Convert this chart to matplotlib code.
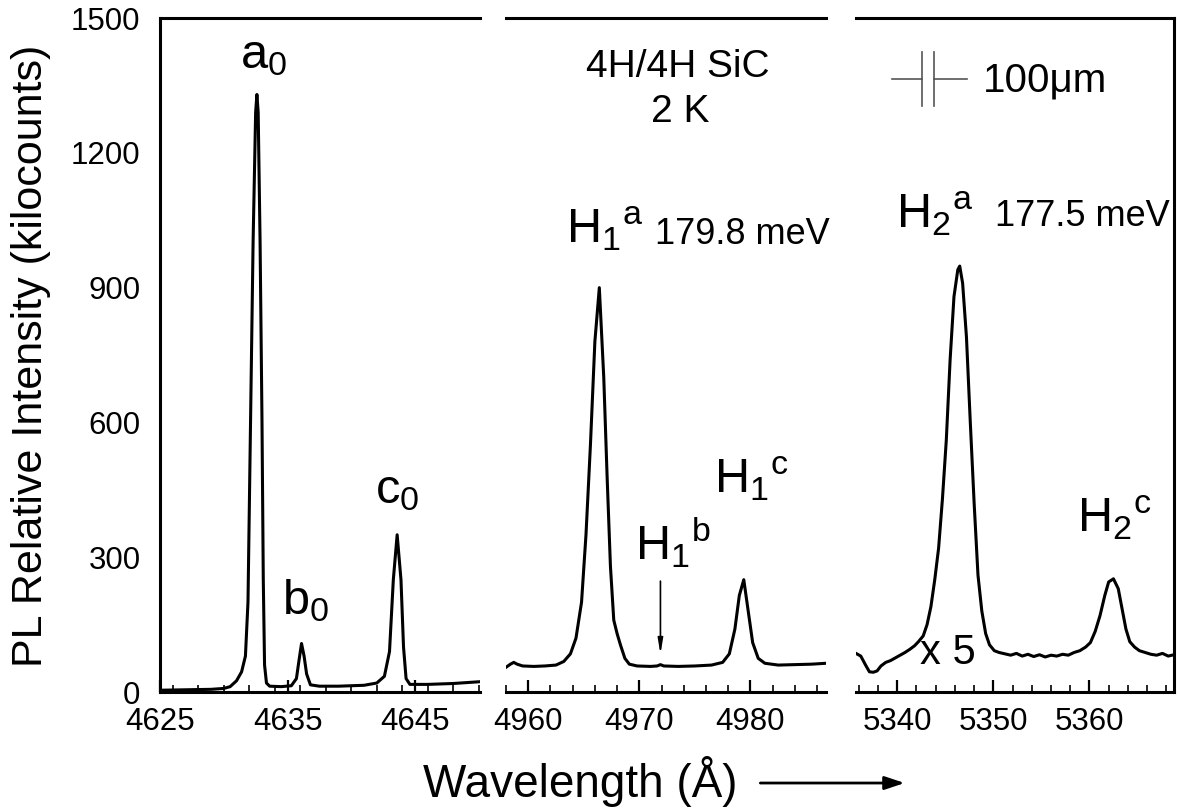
import matplotlib
matplotlib.use("Agg")
import matplotlib.pyplot as plt
from matplotlib.lines import Line2D
from matplotlib.patches import FancyArrowPatch
from matplotlib.ticker import MultipleLocator

plt.rcParams['font.family'] = ['Liberation Sans', 'DejaVu Sans']
plt.rcParams['mathtext.default'] = 'regular'

# panel 1: near band edge lines (a0, b0, c0)
wl1 = [4625.0, 4627.0, 4629.0, 4630.0, 4630.5, 4631.0, 4631.4, 4631.7, 4631.9, 4632.1,
       4632.3, 4632.5, 4632.6, 4632.7, 4632.85, 4633.0, 4633.1, 4633.2, 4633.35, 4633.6,
       4634.5, 4635.3, 4635.7, 4635.9, 4636.1, 4636.3, 4636.5, 4636.8, 4637.5, 4639.0,
       4641.0, 4642.0, 4642.6, 4643.0, 4643.3, 4643.6, 4643.9, 4644.1, 4644.3, 4644.6,
       4646.0, 4648.0, 4650.1]
pl1 = [4, 5, 6, 8, 12, 25, 45, 80, 200, 600,
       1000, 1290, 1330, 1290, 1000, 600, 250, 60, 20, 13,
       12, 14, 30, 70, 108, 80, 40, 16, 13, 13,
       15, 20, 35, 90, 250, 350, 250, 100, 30, 17,
       17, 19, 23]

# panel 2: H1 lines
wl2 = [4958.0, 4958.4, 4958.7, 4959.0, 4959.5, 4960.5, 4961.5, 4962.5, 4963.2, 4963.8,
       4964.3, 4964.8, 4965.2, 4965.6, 4966.0, 4966.4, 4966.8, 4967.1, 4967.4, 4967.7,
       4968.0, 4968.3, 4968.7, 4969.1, 4969.8, 4971.0, 4971.6, 4971.9, 4972.2, 4973.5,
       4975.0, 4976.5, 4977.5, 4978.1, 4978.6, 4979.0, 4979.4, 4979.8, 4980.2, 4980.7,
       4981.3, 4982.5, 4984.0, 4985.5, 4986.8]
pl2 = [55, 62, 66, 62, 58, 57, 58, 60, 68, 85,
       120, 200, 350, 550, 780, 900, 700, 480, 280, 160,
       130, 105, 75, 62, 58, 57, 58, 61, 58, 57,
       58, 60, 66, 85, 140, 215, 250, 180, 110, 75,
       64, 60, 61, 62, 64]

# panel 3: H2 lines (x5)
wl3 = [5335.7, 5336.2, 5336.7, 5337.1, 5337.5, 5337.9, 5338.3, 5338.8, 5339.3, 5339.8,
       5340.3, 5340.8, 5341.3, 5341.8, 5342.2, 5342.7, 5343.1, 5343.5, 5343.9, 5344.3,
       5344.7, 5345.1, 5345.5, 5345.9, 5346.3, 5346.5, 5346.8, 5347.2, 5347.6, 5348.0,
       5348.4, 5348.8, 5349.2, 5349.6, 5350.1, 5350.6, 5351.2, 5351.8, 5352.4, 5353.0,
       5353.6, 5354.2, 5354.8, 5355.4, 5356.0, 5356.6, 5357.2, 5357.8, 5358.4, 5359.0,
       5359.6, 5360.1, 5360.6, 5361.1, 5361.6, 5362.0, 5362.5, 5363.0, 5363.4, 5363.8,
       5364.2, 5364.7, 5365.2, 5365.8, 5366.4, 5367.0, 5367.6, 5368.2, 5368.8]
pl3 = [86, 80, 60, 45, 44, 47, 58, 66, 70, 76,
       82, 88, 95, 103, 112, 125, 150, 190, 250, 320,
       430, 560, 740, 880, 940, 948, 910, 790, 600, 420,
       260, 180, 130, 105, 92, 88, 85, 82, 86, 80,
       84, 79, 83, 78, 82, 80, 84, 82, 88, 92,
       100, 110, 135, 170, 215, 245, 252, 230, 185, 140,
       112, 100, 92, 88, 84, 82, 86, 80, 83]

xlims = [(4625, 4650.1), (4958.0, 4986.8), (5335.7, 5368.8)]
xticks = [[4625, 4635, 4645], [4960, 4970, 4980], [5340, 5350, 5360]]

fig = plt.figure(figsize=(11.8, 8.11), dpi=100)
bot, h = 0.1467, 0.831
ax1 = fig.add_axes([0.1356, bot, 0.2712, h])
ax2 = fig.add_axes([0.4288, bot, 0.2712, h])
ax3 = fig.add_axes([0.7254, bot, 0.2695, h])
axes = [ax1, ax2, ax3]

for ax, x, y, lim, tk in zip(axes, [wl1, wl2, wl3], [pl1, pl2, pl3], xlims, xticks):
    ax.plot(x, y, color='black', lw=2.2)
    ax.set_xlim(*lim)
    ax.set_ylim(0, 1500)
    ax.set_xticks(tk)
    ax.xaxis.set_minor_locator(MultipleLocator(2))
    ax.tick_params(axis='x', which='major', direction='in', length=8.5, width=1.6,
                   labelsize=22.5, pad=11)
    ax.tick_params(axis='x', which='minor', direction='in', length=5, width=1.2)
    for s in ax.spines.values():
        s.set_linewidth(2.2)

ax1.set_yticks([0, 300, 600, 900, 1200, 1500])
ax1.tick_params(axis='y', length=0, labelsize=22.5, pad=14)
ax1.spines['right'].set_visible(False)

ax2.spines['left'].set_visible(False)
ax2.spines['right'].set_visible(False)
ax2.set_yticks([])

ax3.spines['left'].set_visible(False)
ax3.set_yticks([])

fig.text(0.0263, 0.561, 'PL Relative Intensity (kilocounts)', fontsize=31,
         rotation=90, ha='center', va='center')

# peak labels
lab = 35
ax1.text(4631.25, 1389, '$a_0$', fontsize=lab)
ax1.text(4634.6, 173, '$b_0$', fontsize=lab)
ax1.text(4641.85, 420, '$c_0$', fontsize=lab)

ax2.text(4973.5, 1391, '4H/4H SiC', fontsize=28, ha='center', va='center')
ax2.text(4973.7, 1291, '2 K', fontsize=28, ha='center', va='center')
ax2.text(4963.4, 998, '$H_1{}^a$', fontsize=lab)
ax2.text(4971.4, 998, '179.8 meV', fontsize=26)
ax2.text(4969.6, 293, '$H_1{}^b$', fontsize=lab)
ax2.text(4976.7, 442, '$H_1{}^c$', fontsize=lab)
ax2.annotate('', xy=(4971.9, 78), xytext=(4971.9, 253),
             arrowprops=dict(arrowstyle='-|>,head_length=0.9,head_width=0.15',
                             color='black', lw=1.2))

ax3.text(5339.9, 1033, '$H_2{}^a$', fontsize=lab)
ax3.text(5350.2, 1038, '177.5 meV', fontsize=26)
ax3.text(5358.7, 356, '$H_2{}^c$', fontsize=lab)
ax3.text(5342.4, 62, 'x 5', fontsize=30)

# scale bar symbol
sb = dict(transform=ax3.transAxes, color='#555555', lw=1.2)
ax3.add_line(Line2D([0.113, 0.208], [0.9095, 0.9095], **sb))
ax3.add_line(Line2D([0.208, 0.208], [0.869, 0.950], **sb))
ax3.add_line(Line2D([0.2446, 0.2446], [0.869, 0.950], **sb))
ax3.add_line(Line2D([0.2446, 0.350], [0.9095, 0.9095], **sb))
ax3.text(0.399, 0.908, '100\u03bcm', transform=ax3.transAxes, fontsize=29, va='center')

fig.text(0.4915, 0.0173, 'Wavelength (\u00c5)', fontsize=33, ha='center', va='baseline')
fig.add_artist(FancyArrowPatch((0.642, 0.0345), (0.769, 0.0345),
               transform=fig.transFigure, arrowstyle='-|>,head_length=12,head_width=4',
               color='black', lw=2))

fig.savefig('out.png', dpi=100)
